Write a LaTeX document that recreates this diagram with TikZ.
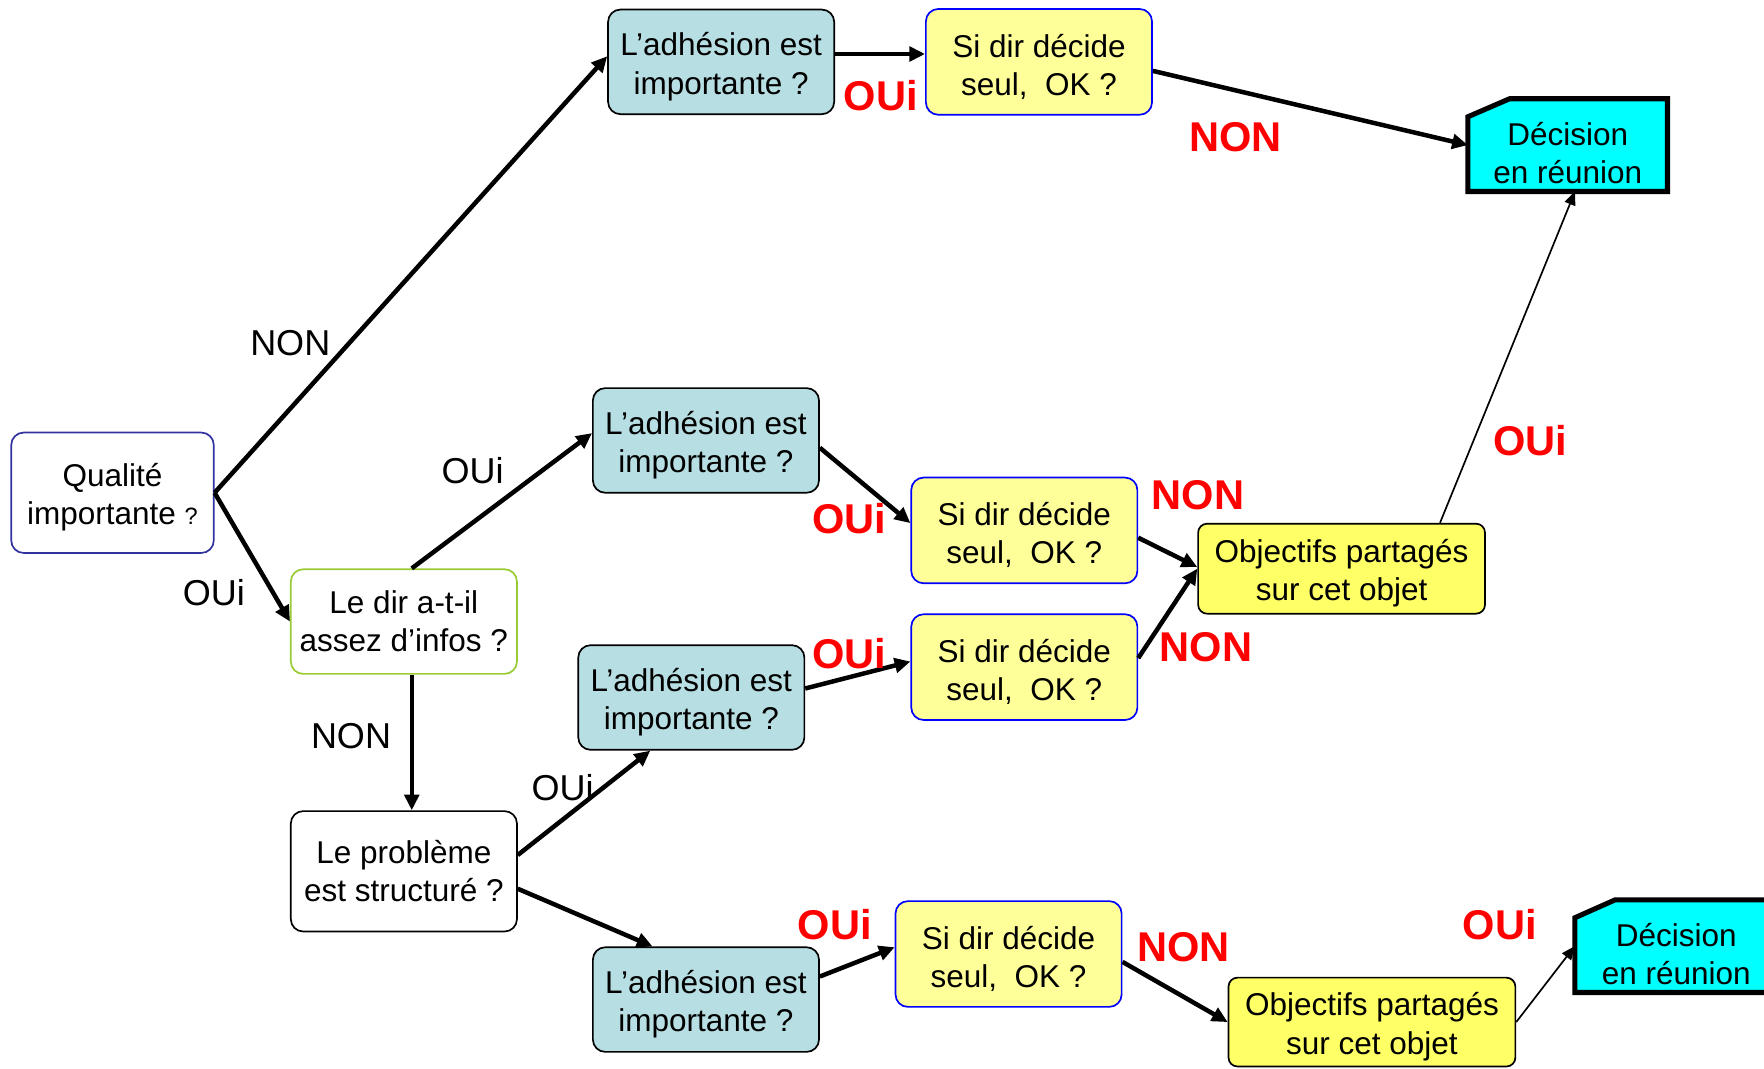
\documentclass[tikz,border=0pt]{standalone}
\usepackage{fontspec}
\setmainfont{Liberation Sans}
\usetikzlibrary{arrows.meta,backgrounds}
\definecolor{adhc}{RGB}{183,222,226}
\definecolor{sic}{RGB}{255,255,153}
\definecolor{objc}{RGB}{255,255,102}
\definecolor{decc}{RGB}{0,255,255}
\definecolor{qualc}{RGB}{51,51,160}
\definecolor{dirc}{RGB}{153,204,51}
\definecolor{sibord}{RGB}{0,0,255}
\newcommand\tstrut{\rule{0pt}{29pt}}
\newcommand\dstrut{\rule{0pt}{35pt}}
\begin{document}
\begin{tikzpicture}[x=1pt,y=-1pt,
  box/.style={rectangle, rounded corners=11pt, align=center, inner sep=0pt,
    font=\fontsize{28}{34}\selectfont, line width=1.5pt},
  adh/.style={box, draw=black, fill=adhc, minimum width=201pt, minimum height=93pt},
  sibox/.style={box, draw=sibord, fill=sic, minimum width=201pt, minimum height=94pt},
  obj/.style={box, rounded corners=8pt, draw=black, fill=objc, minimum width=255pt, minimum height=80pt},
  white/.style={box, fill=white, minimum width=201pt},
  dec/.style={rectangle, align=center, inner sep=0pt, font=\fontsize{28}{34}\selectfont,
    minimum width=177pt, minimum height=82pt},
  decshape/.style={draw=black, fill=decc, line width=4.5pt, line join=miter},
  conn/.style={line width=4pt, -{Triangle[length=14pt,width=13pt]}},
  thinconn/.style={line width=1.5pt, -{Triangle[length=12pt,width=10pt]}},
  lab/.style={font=\fontsize{32}{34}\selectfont},
  rlab/.style={font=\fontsize{37}{40}\selectfont\bfseries, text=red}]
\useasboundingbox (0,0) rectangle (1568,950);

% nodes
\node[white, draw=qualc, minimum width=180pt, minimum height=107pt] (q) at (100,438) {\tstrut Qualité\\importante {\fontsize{21}{34}\selectfont ?}};
\node[adh] (a1) at (641,55) {\tstrut L’adhésion est\\importante ?};
\node[sibox] (s1) at (923.5,55) {\tstrut Si dir décide\\ seul,\ \ OK ?};
\node[dec] (d1) at (1393.5,129) {\dstrut Décision\\en réunion};
\node[adh] (a2) at (627.5,391.5) {\tstrut L’adhésion est\\importante ?};
\node[sibox] (s2) at (910.5,471.5) {\tstrut Si dir décide\\ seul,\ \ OK ?};
\node[white, draw=dirc, minimum height=93pt] (l) at (359,552.5) {Le dir a-t-il\\assez d’infos ?};
\node[adh] (a3) at (614.5,620) {\tstrut L’adhésion est\\importante ?};
\node[sibox] (s3) at (910.5,593) {\tstrut Si dir décide\\ seul,\ \ OK ?};
\node[obj] (o1) at (1192.5,505.5) {\tstrut Objectifs partagés\\sur cet objet};
\node[white, draw=black, minimum height=107pt] (p) at (359,774.5) {Le problème\\est structuré ?};
\node[adh] (a4) at (627.5,888.5) {\tstrut L’adhésion est\\importante ?};
\node[sibox] (s4) at (896.5,848) {\tstrut Si dir décide\\ seul,\ \ OK ?};
\node[obj, minimum height=79pt] (o2) at (1219.5,908.5) {\tstrut Objectifs partagés\\sur cet objet};
\node[dec, minimum width=180pt] (d2) at (1490,841) {\dstrut Décision\\en réunion};

\begin{scope}[on background layer]
\draw[decshape] (d1.south west) -- ([yshift=-16pt]d1.north west) -- ([xshift=37pt]d1.north west) -- (d1.north east) -- (d1.south east) -- cycle;
\draw[decshape] (d2.south west) -- ([yshift=-16pt]d2.north west) -- ([xshift=36pt]d2.north west) -- ([xshift=20pt]d2.north east) -- ([xshift=20pt]d2.south east) -- cycle;
\end{scope}

% connectors
\draw[conn] (q.east) -- ([yshift=5pt]a1.west);
\draw[conn] (q.east) -- (l.west);
\draw[conn] ([xshift=7pt]l.north) -- ([yshift=6.5pt]a2.west);
\draw[conn] ([xshift=7pt]l.south) -- ([xshift=7pt]p.north);
\draw[conn] ([yshift=14.5pt]p.east) -- ([xshift=-36.5pt]a3.south);
\draw[conn] ([yshift=-15.5pt]p.east) -- ([xshift=-47.5pt]a4.north);
\draw[conn] ([yshift=7pt]a1.east) -- ([yshift=7pt]s1.west);
\draw[conn] ([yshift=-8pt]s1.east) -- (d1.west);
\draw[conn] ([yshift=-6.5pt]a2.east) -- ([yshift=6.5pt]s2.west);
\draw[conn] ([yshift=8pt]a3.east) -- ([yshift=5pt]s3.west);
\draw[conn] ([yshift=-6.5pt]s2.east) -- ([yshift=1.5pt]o1.west);
\draw[conn] ([yshift=8pt]s3.east) -- (o1.west);
\draw[thinconn] ([xshift=87.5pt]o1.north) -- ([xshift=6.5pt]d1.south);
\draw[conn] ([yshift=20.5pt]a4.east) -- ([yshift=6pt]s4.west);
\draw[conn] ([yshift=-7pt]s4.east) -- (o2.west);
\draw[thinconn] (o2.east) -- (d2.west);

% labels
\node[lab] (t1) at (258,305) {NON};
\node[lab] (t2) at (190,527) {OUi};
\node[lab] (t3) at (420,418) {OUi};
\node[lab] (t4) at (312,654) {NON};
\node[lab] (t5) at (500,700) {OUi};
\node[rlab] (r1) at (783,85) {OUi};
\node[rlab] (r2) at (1098,122) {NON};
\node[rlab] (r3) at (755,461) {OUi};
\node[rlab] (r4) at (755,581) {OUi};
\node[rlab] (r5) at (1065,440) {NON};
\node[rlab] (r6) at (1072,575) {NON};
\node[rlab] (r7) at (1360,392) {OUi};
\node[rlab] (r8) at (742,822) {OUi};
\node[rlab] (r9) at (1052,842) {NON};
\node[rlab] (r10) at (1333,822) {OUi};
\end{tikzpicture}
\end{document}
